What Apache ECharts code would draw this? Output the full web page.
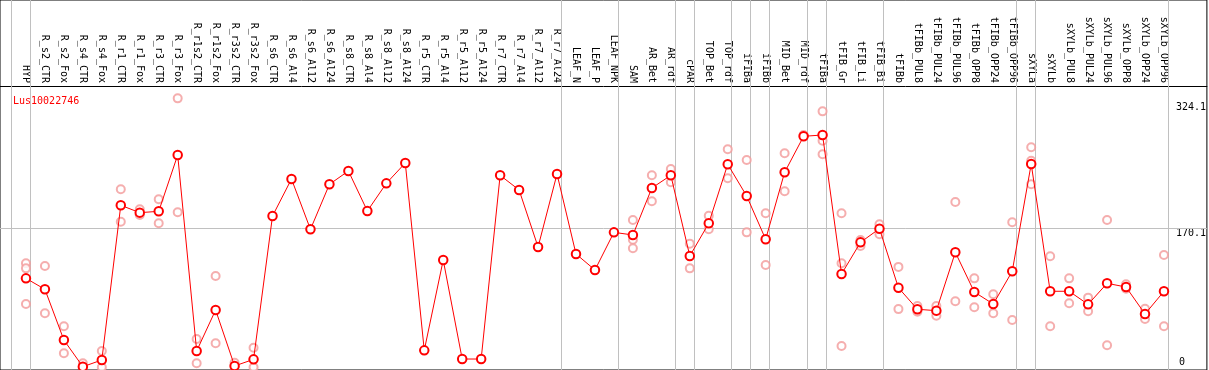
<!DOCTYPE html>
<html>
<head>
<meta charset="utf-8">
<script src="https://cdn.jsdelivr.net/npm/echarts@6/dist/echarts.min.js"></script>
<style>
html,body{margin:0;padding:0;background:#fff;}
#c{width:1209px;height:370px;}
</style>
</head>
<body>
<div id="c"></div>
<script>
// ---- data ----
const title = 'Lus10022746';
const categories = ['HYP','R_s2_CTR','R_s2_Fox','R_s4_CTR','R_s4_Fox','R_r1_CTR','R_r1_Fox','R_r3_CTR','R_r3_Fox','R_r1s2_CTR','R_r1s2_Fox','R_r3s2_CTR','R_r3s2_Fox','R_s6_CTR','R_s6_Al4','R_s6_Al12','R_s6_Al24','R_s8_CTR','R_s8_Al4','R_s8_Al12','R_s8_Al24','R_r5_CTR','R_r5_Al4','R_r5_Al12','R_r5_Al24','R_r7_CTR','R_r7_Al4','R_r7_Al12','R_r7_Al24','LEAF_N','LEAF_P','LEAF_NPK','SAM','AR_Bet','AR_rdf','cPAR','TOP_Bet','TOP_rdf','iFIBa','iFIBb','MID_Bet','MID_rdf','tFIBa','tFIB_Gr','tFIB_Li','tFIB_Bi','tFIBb','tFIBb_PUL8','tFIBb_PUL24','tFIBb_PUL96','tFIBb_OPP8','tFIBb_OPP24','tFIBb_OPP96','sXYLa','sXYLb','sXYLb_PUL8','sXYLb_PUL24','sXYLb_PUL96','sXYLb_OPP8','sXYLb_OPP24','sXYLb_OPP96'];
const meanValues = [108.6,95.2,33.2,0.6,8.8,197.9,188.9,190.5,259.3,19.8,69.9,1.5,9.6,184.8,230.0,168.5,223.5,239.8,190.9,224.7,249.6,20.6,131.0,10.0,10.0,234.5,216.6,146.9,236.1,138.4,118.8,164.8,161.6,219.0,234.5,135.9,175.9,248.0,209.2,156.3,238.2,282.2,283.8,113.9,152.6,169.3,97.1,70.8,69.1,140.4,91.9,77.2,117.2,248.4,92.8,92.8,76.8,102.5,98.0,65.0,92.8];
const replicates = [
  [127,120.8,77.2],[123.7,65.9],[50,17],[4.8],[19.8,0],[217.4,177.8],[193,186],[205.2,175.9],[328.6,189.3],[34.5,4.8],[111.5,29.2],[5.5],[23.8,0],
  [],[],[],[],[],[],[],[],[],[],[],[],[],[],[],[],[],[],[],
  [179.9,155.9,145.3],[234.5,202.8],[242.2,226],[151,120.8],[185.2,168.5],[266.3,230.9],[253.2,164.8],[188.1,124.9],[261.4,215],[283.8],[312.7,276.8,260.2],[188.1,127,25.9],[155.5,148.1],[174.6,162.4],[122.6,71],
  [74.8,67.9],[74.8,63],[201.9,80.5],[108.6,73.2],[89.1,65.9],[177.1,57.7],[268.8,252.4,223.5],[135.5,50],[108.6,78.1],[85,68.3],[179.9,26.8],[101.3,96],[71.5,58.9],[137.1,50]
];
const groupEnds = [-1,0,28,31,34,35,37,38,39,41,42,45,52,53,60];
const yTickLabels = [170.1,324.1];
const yZeroLabel = [0];

// ---- chart ----
const W = 1209, H = 370;
const X0 = 26, DX = 19;           // pixel of first category, spacing
const Y0 = 367.2, SY = 0.8182;    // pixel of value 0, px per unit
const xMin = -X0 / DX, xMax = (W - X0) / DX;
const yMax = Y0 / SY, yMin = (Y0 - H) / SY;
const FONT = 'DejaVu Sans Mono';

const mainData = meanValues.map((v, i) => [i, v]);
const repData = [];
replicates.forEach((arr, i) => arr.forEach(v => repData.push([i, v])));

const chart = echarts.init(document.getElementById('c'), null, {renderer: 'canvas'});
const yAxisBase = {
  type: 'value', min: yMin, max: yMax, position: 'right', offset: -38,
  axisLine: {show: false}, axisTick: {show: false}, splitLine: {show: false}
};
chart.setOption({
  animation: false,
  backgroundColor: '#fff',
  title: {text: title, left: 8, top: 91, textStyle: {color: '#ff0000', fontFamily: FONT, fontSize: 10, fontWeight: 'normal'}},
  grid: {left: 0, right: 0, top: 0, bottom: 0, show: true, borderColor: '#000', borderWidth: 1, containLabel: false},
  xAxis: {
    type: 'value', min: xMin, max: xMax, position: 'top', offset: -86,
    axisLine: {show: true, onZero: false, lineStyle: {color: '#000', width: 1}},
    axisTick: {show: false}, splitLine: {show: false},
    axisLabel: {
      customValues: categories.map((c, i) => i),
      formatter: v => categories[Math.round(v)],
      rotate: 90, margin: 3, color: '#000', fontFamily: FONT, fontSize: 10
    }
  },
  yAxis: [
    Object.assign({}, yAxisBase, {axisLabel: {customValues: yTickLabels, formatter: v => String(v), verticalAlign: 'top', margin: 7, color: '#000', fontFamily: FONT, fontSize: 10}}),
    Object.assign({}, yAxisBase, {axisLabel: {customValues: yZeroLabel, formatter: v => String(v), verticalAlign: 'bottom', margin: 10, color: '#000', fontFamily: FONT, fontSize: 10}})
  ],
  series: [
    {
      type: 'scatter', data: repData, symbol: 'emptyCircle', symbolSize: 8, z: 2,
      itemStyle: {color: '#f29a9a', borderColor: '#f29a9a', borderWidth: 1},
      silent: true
    },
    {
      type: 'line', data: mainData, symbol: 'emptyCircle', symbolSize: 8.5, z: 3,
      lineStyle: {color: '#ff0000', width: 1},
      itemStyle: {color: '#ff0000', borderColor: '#ff0000', borderWidth: 1.3},
      silent: true,
      markLine: {
        silent: true, symbol: ['none', 'none'], label: {show: false}, z: 1,
        lineStyle: {color: '#c0c0c0', type: 'solid', width: 1},
        data: groupEnds.map(k => ({xAxis: k + 0.21})).concat(yTickLabels.slice(0, 1).map(v => ({yAxis: v})))
      }
    }
  ]
});
</script>
</body>
</html>
